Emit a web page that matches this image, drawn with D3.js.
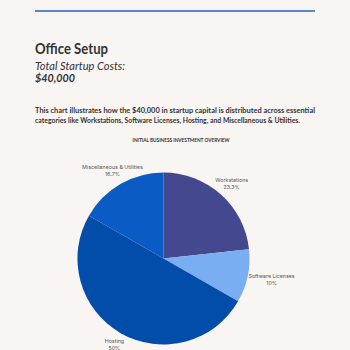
<!DOCTYPE html>
<html>
<head>
<meta charset="utf-8">
<script src="https://cdn.jsdelivr.net/npm/d3@7"></script>
<style>
  html, body { margin: 0; padding: 0; background: #f8f5f2; }
  svg { display: block; }
</style>
</head>
<body>
<div id="chart"></div>
<script>
// Data
const categories = ["Workstations", "Software Licenses", "Hosting", "Miscellaneous & Utilities"];
const shares = [23.3, 10, 50, 16.7];
const shareLabels = ["23.3%", "10%", "50%", "16.7%"];
const colors = ["#43488f", "#7aaef2", "#034daa", "#0b5bc4"];

const width = 350;
const height = 350;
const fontFamily = "Lato, 'Open Sans', sans-serif";
const labelFont = "Inter, Roboto, sans-serif";

const svg = d3.select("#chart").append("svg")
  .attr("width", width)
  .attr("height", height);

svg.append("rect")
  .attr("width", width)
  .attr("height", height)
  .attr("fill", "#f8f5f2");

// Top rule
svg.append("line")
  .attr("x1", 35).attr("x2", 315)
  .attr("y1", 11).attr("y2", 11)
  .attr("stroke", "#5a86c9")
  .attr("stroke-width", 2);

// helper for text squeezed to the width seen in the reference
function addText(x, y, size, str, opts = {}) {
  const t = svg.append("text")
    .attr("x", x).attr("y", y)
    .attr("fill", opts.fill || "#333")
    .attr("font-size", size)
    .attr("font-weight", opts.weight || "normal")
    .attr("font-style", opts.style || "normal")
    .style("font-family", fontFamily)
    .text(str);
  if (opts.anchor) t.attr("text-anchor", opts.anchor);
  if (opts.len) t.attr("textLength", opts.len).attr("lengthAdjust", "spacingAndGlyphs");
  return t;
}

// Heading block
addText(35, 54, 15, "Office Setup", { weight: "bold", len: 73 });
addText(35, 70, 11.5, "Total Startup Costs:", { style: "italic", len: 90 });
addText(35, 82, 11.5, "$40,000", { style: "italic", weight: "bold", len: 40 });

// Description (first line justified)
addText(35, 113, 8, "This chart illustrates how the $40,000 in startup capital is distributed across essential",
  { weight: "bold", len: 280 });
addText(35, 123, 8, "categories like Workstations, Software Licenses, Hosting, and Miscellaneous & Utilities.",
  { weight: "bold", len: 265 });

// Chart title
addText(181, 142, 5, "INITIAL BUSINESS INVESTMENT OVERVIEW",
  { weight: "bold", anchor: "middle", len: 97 });

// Pie
const cx = 163.5, cy = 258.5, radius = 86;
const pie = d3.pie().sort(null).value(d => d)(shares);
const arc = d3.arc().innerRadius(0).outerRadius(radius);

const g = svg.append("g").attr("transform", `translate(${cx},${cy})`);

g.selectAll("path")
  .data(pie)
  .join("path")
  .attr("d", arc)
  .attr("fill", (d, i) => colors[i]);

const labels = g.selectAll("g.label")
  .data(pie)
  .join("g")
  .attr("class", "label");

labels.each(function (d, i) {
  const lg = d3.select(this);
  const t = lg.append("text")
    .attr("text-anchor", "middle")
    .attr("fill", "#555")
    .attr("font-size", 5.3)
    .style("font-family", labelFont);
  t.append("tspan").attr("x", 0).attr("y", -1).text(categories[i]);
  t.append("tspan").attr("x", 0).attr("y", 6).text(shareLabels[i]);
  const w = t.node().getBBox().width;
  const a = (d.startAngle + d.endAngle) / 2;
  const r = 102 - 4 * Math.max(0, -Math.cos(a));
  const lx = Math.sin(a) * r + (Math.sin(a) > 0.9 ? Math.sin(a) * w * 0.2 : 0);
  const ly = -Math.cos(a) * r;
  lg.attr("transform", `translate(${lx},${ly})`);
});
</script>
</body>
</html>
